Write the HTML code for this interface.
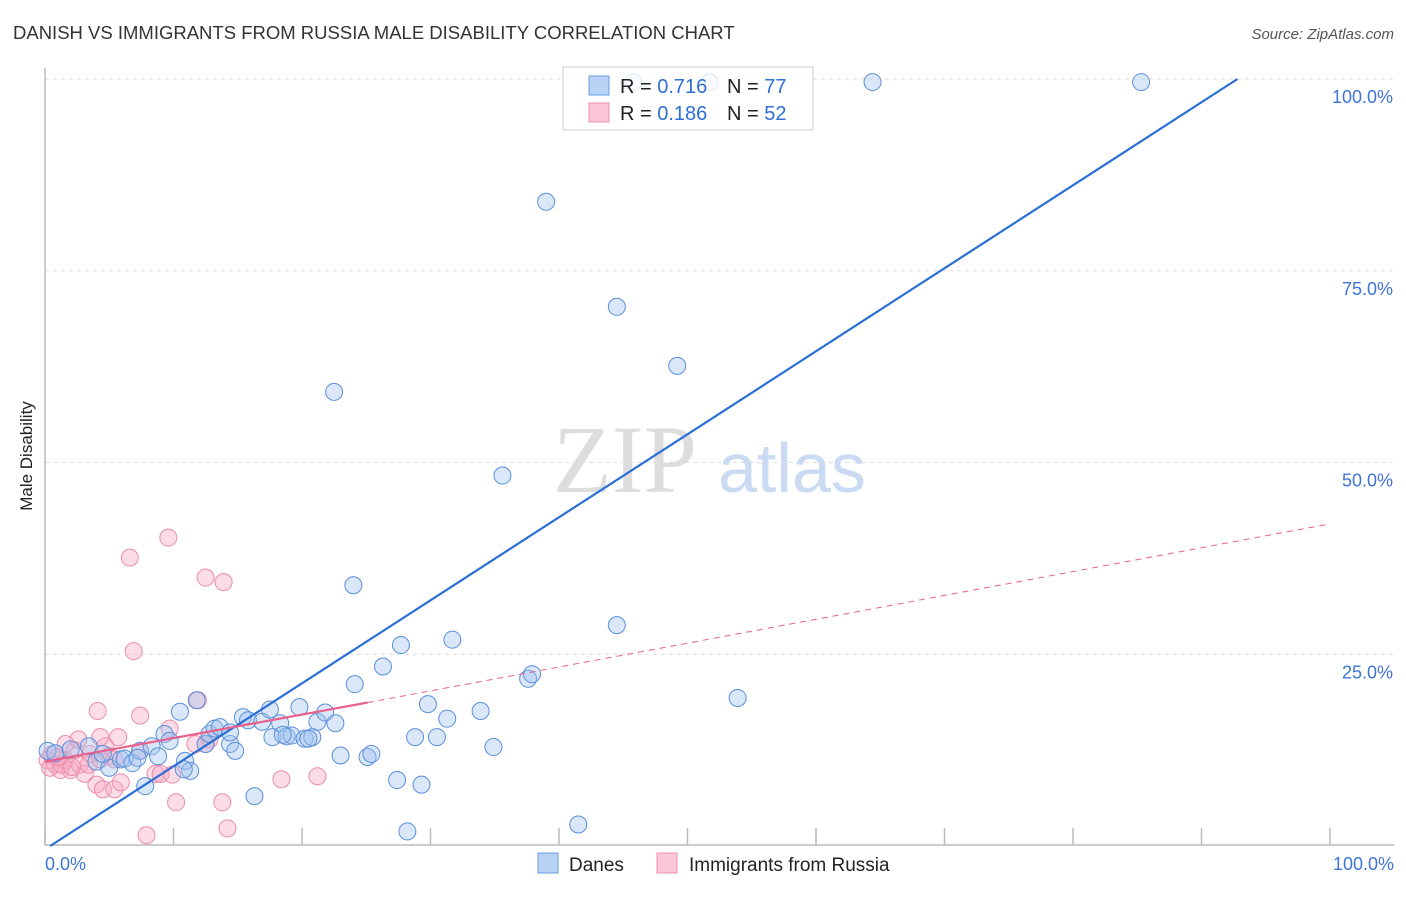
<!DOCTYPE html>
<html><head><meta charset="utf-8"><style>
body{margin:0;background:#fff;font-family:"Liberation Sans",sans-serif;}
</style></head><body>
<svg width="1406" height="892" xmlns="http://www.w3.org/2000/svg">
<text x="13" y="39" font-size="18.5" fill="#333">DANISH VS IMMIGRANTS FROM RUSSIA MALE DISABILITY CORRELATION CHART</text>
<text x="1394" y="39" font-size="15" fill="#555" font-style="italic" text-anchor="end">Source: ZipAtlas.com</text>
<text x="32" y="456" font-size="17" fill="#222" text-anchor="middle" transform="rotate(-90 32 456)">Male Disability</text>
<g id="grid"></g>
<text x="553" y="492" font-size="96" fill="#ddd" font-family="Liberation Serif,serif">ZIP</text>
<text x="718" y="492" font-size="70" fill="#c9daf2">atlas</text>
<g id="pts"></g>
<g id="lines"></g>
<g>
<rect x="563" y="67" width="250" height="63" fill="rgba(255,255,255,0.8)" stroke="#ccc"/>
<rect x="589" y="76" width="20" height="19" fill="#b8d3f5" stroke="#6a9ee0"/>
<rect x="589" y="103" width="20" height="19" fill="#fbc6d6" stroke="#ee90ad"/>
<text x="620" y="93" font-size="20" fill="#222">R = <tspan fill="#2f6fd6">0.716</tspan><tspan x="727">N = </tspan><tspan fill="#2f6fd6">77</tspan></text>
<text x="620" y="120" font-size="20" fill="#222">R = <tspan fill="#2f6fd6">0.186</tspan><tspan x="727">N = </tspan><tspan fill="#2f6fd6">52</tspan></text>
</g>
<text x="45" y="870" font-size="18" fill="#3d74d6">0.0%</text>
<text x="1394" y="870" font-size="18" fill="#3d74d6" text-anchor="end">100.0%</text>
<g>
<rect x="538" y="853" width="20" height="20" fill="#b8d3f5" stroke="#6a9ee0"/>
<text x="569" y="871" font-size="19" fill="#222">Danes</text>
<rect x="657" y="853" width="20" height="20" fill="#fbc6d6" stroke="#ee90ad"/>
<text x="689" y="871" font-size="19" fill="#222">Immigrants from Russia</text>
</g>
</svg>
<script>
const yTicks=[25,50,75,100];
const yTickLabels=["25.0%","50.0%","75.0%","100.0%"];
const xTicks=[0,10,20,30,40,50,60,70,80,90,100];
const danesX=[0.2,0.8,2,3.4,4,5,5.9,6.2,6.8,7.4,7.8,8.3,8.8,9.3,9.7,10.5,10.9,11.3,11.8,12.5,12.8,13.2,13.6,14.4,14.8,15.4,15.8,16.3,16.9,17.5,17.7,18.3,18.8,19.2,19.8,20.2,20.8,21.2,21.8,22.6,23,24.1,25.1,25.4,26.3,27.4,27.7,28.2,28.8,29.3,29.8,30.5,31.3,31.7,33.9,34.9,35.6,37.6,37.9,39,41.5,44.5,44.5,45.8,49.2,51.7,53.9,64.4,85.3,22.5,24,14.4,4.5,10.8,7.2,18.5,20.5];
const danesY=[12.4,12.1,12.6,13,11,10.2,11.3,11.4,10.8,12.4,7.8,13,11.7,14.6,13.7,17.5,11.1,9.8,19,13.3,14.6,15.3,15.5,13.3,12.4,16.8,16.4,6.5,16.2,17.8,14.2,16,14.3,14.4,18.1,14,14.2,16.2,17.4,16,11.8,21.1,11.6,12,23.4,8.6,26.2,1.9,14.2,8,18.5,14.2,16.6,26.9,17.6,12.9,48.3,21.8,22.4,84,2.8,70.3,28.8,99.6,62.6,99.6,19.3,99.6,99.6,59.2,34,14.8,12,10,11.5,14.5,14];
const rusX=[0.2,0.4,0.8,1.2,1.6,2,2.3,2.7,3.1,3.5,4,4.1,4.5,4.7,5,5.4,5.7,5.9,6.6,6.9,7.4,7.9,8.6,9,9.6,9.7,9.9,10.2,11.9,12.5,12.5,13.8,13.9,14.2,18.4,21.2,4.3,1.6,2.6,0.5,3.4,1.3,2.1,5.4,4.3,1,7.4,11.7,12.8];
const rusY=[11.2,10.2,10.6,9.9,11.2,9.9,12.5,10.6,9.4,12,8,17.6,7.4,13,11.7,7.4,14.2,8.3,37.6,25.4,17,1.4,9.4,9.4,40.2,15.3,9.3,5.7,19,35,13.3,5.7,34.4,2.3,8.7,9.1,14.2,13.3,13.9,11.9,10.6,10.6,10.3,11.3,11.3,11.6,12.4,13.3,13.9];
const NS="http://www.w3.org/2000/svg";
const X0=45,X1=1330,Y0=846,Y1=79;
function sx(v){return X0+(X1-X0)*v/100;}
function sy(v){return Y0-(Y0-Y1)*v/100;}
function mk(tag,attrs,parent){const e=document.createElementNS(NS,tag);for(const k in attrs)e.setAttribute(k,attrs[k]);parent.appendChild(e);return e;}
const g=document.getElementById('grid');
yTicks.forEach((t,i)=>{
 const l=mk('line',{x1:45,x2:1394,y1:sy(t),y2:sy(t),stroke:'#ddd','stroke-dasharray':'4,4'},g);
 
 
 const tx=mk('text',{x:1393,y:sy(t)+24,'font-size':18,fill:'#3d74d6','text-anchor':'end'},g);
 tx.textContent=yTickLabels[i];
 
 
});
const ax=mk('line',{x1:45,x2:1394,y1:845,y2:845,stroke:'#bbb','stroke-width':1.5},g);


const ay=mk('line',{x1:45,x2:45,y1:68,y2:845,stroke:'#bbb','stroke-width':1.5},g);


xTicks.forEach(t=>{
 const l=mk('line',{x1:sx(t),x2:sx(t),y1:828,y2:845,stroke:'#bbb','stroke-width':1.5},g);
 
 
});
const p=document.getElementById('pts');
rusX.forEach((v,i)=>{
 const c=mk('circle',{cx:sx(v),cy:sy(rusY[i]),r:8.5,fill:'rgba(248,170,195,0.4)',stroke:'#ec8cab','stroke-width':1},p);
 
 
});
danesX.forEach((v,i)=>{
 const c=mk('circle',{cx:sx(v),cy:sy(danesY[i]),r:8.5,fill:'rgba(160,196,240,0.4)',stroke:'#5b8fdb','stroke-width':1},p);
 
 
});
const L=document.getElementById('lines');
const bl=mk('line',{x1:sx(0.4),y1:sy(0),x2:sx(92.8),y2:sy(100),stroke:'#2a6fd6','stroke-width':2.2},L);


const pl=mk('line',{x1:sx(0),y1:sy(11),x2:sx(25.1),y2:sy(18.7),stroke:'#e8608c','stroke-width':2.2},L);


const pd=mk('line',{x1:sx(25.1),y1:sy(18.7),x2:sx(100),y2:sy(42),stroke:'#e8608c','stroke-width':1,'stroke-dasharray':'6,5'},L);


</script>
</body></html>
